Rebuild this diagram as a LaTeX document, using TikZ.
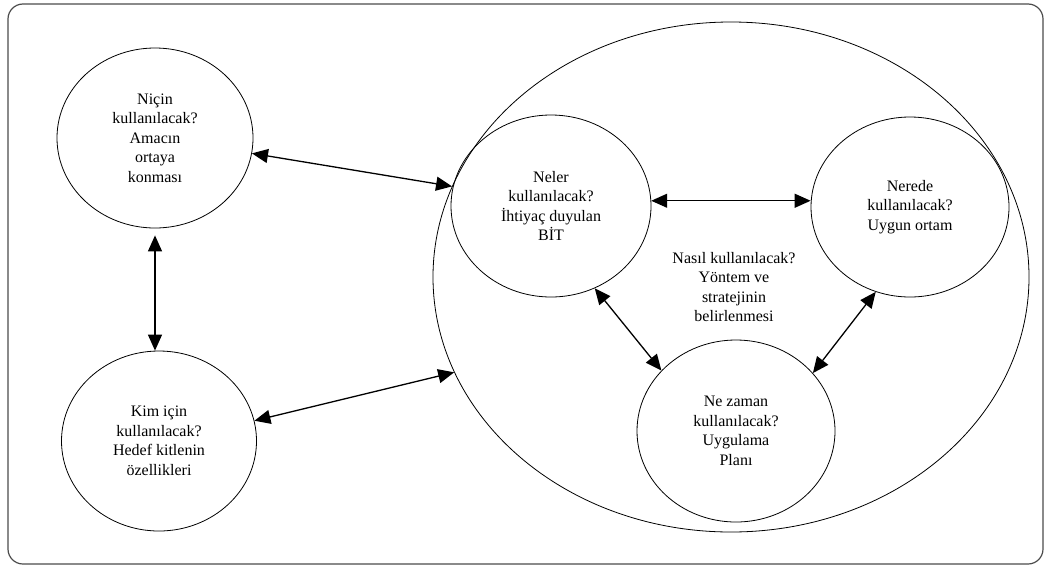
\documentclass[tikz,border=0pt]{standalone}
\usepackage{fontspec}
\setmainfont{Liberation Serif}
\usetikzlibrary{shapes.geometric,arrows.meta}
\begin{document}
\begin{tikzpicture}[x=1pt,y=-1pt,
  bubble/.style={draw,ellipse,inner sep=0pt,line width=0.8pt,align=center,
    font=\fontsize{16}{19.5}\selectfont},
  link/.style={{Triangle[length=16pt,width=14pt]}-{Triangle[length=16pt,width=14pt]},
    line width=1.3pt}]
\useasboundingbox (0,0) rectangle (1048,568);
\draw[line width=1.2pt,rounded corners=15pt,black!70] (8,4) rectangle (1043,564);
\node[bubble,minimum width=596pt,minimum height=510pt] (genel) at (731,277) {};
\node[bubble,minimum width=196pt,minimum height=180pt] (nicin) at (155,138)
  {Niçin\\kullanılacak?\\Amacın\\ortaya\\konması};
\node[bubble,minimum width=195pt,minimum height=180pt] (kim) at (159,441)
  {Kim için\\kullanılacak?\\Hedef kitlenin\\özellikleri};
\node[bubble,minimum width=200pt,minimum height=182pt] (neler) at (551,206)
  {Neler\\kullanılacak?\\İhtiyaç duyulan\\BİT};
\node[bubble,minimum width=198pt,minimum height=180pt] (nerede) at (910,207)
  {Nerede\\kullanılacak?\\Uygun ortam};
\node[bubble,minimum width=198pt,minimum height=182pt] (zaman) at (736,431)
  {Ne zaman\\kullanılacak?\\Uygulama\\Planı};
\node[align=center,font=\fontsize{16}{19.5}\selectfont] (nasil) at (734,287)
  {Nasıl kullanılacak?\\Yöntem ve\\stratejinin\\belirlenmesi};
\draw[link] (nicin.-9) -- (genel.162);
\draw[link,shorten <=7pt] (nicin.south) -- (nicin.south |- kim.north);
\draw[link] (kim.12) -- (genel.199);
\draw[link] (neler.3) -- (neler.3 -| nerede.west);
\draw[link] (neler.-62) -- (zaman.141);
\draw[link] (nerede.-112) -- (zaman.37);
\end{tikzpicture}
\end{document}
